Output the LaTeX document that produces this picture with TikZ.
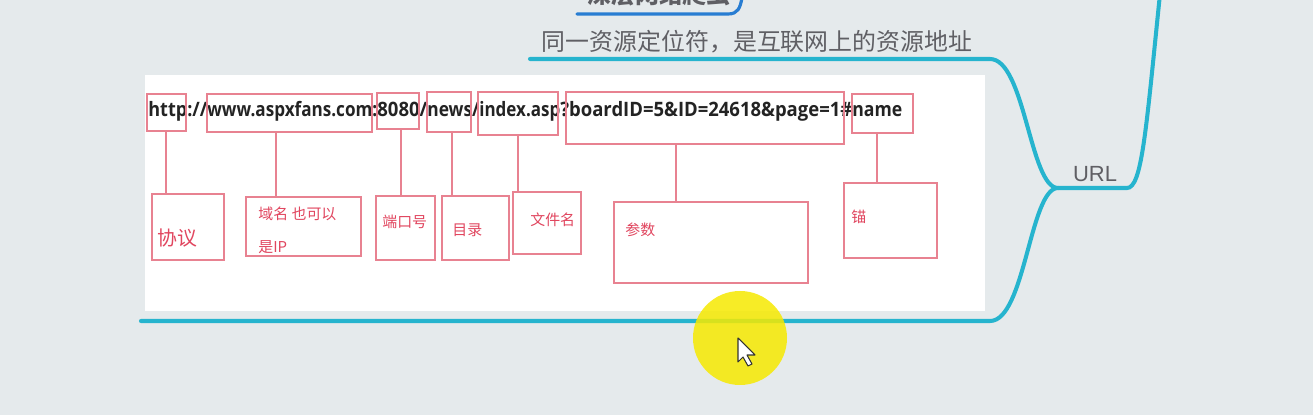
\documentclass[tikz,border=0pt]{standalone}
\usepackage{fontspec}
\setmainfont{Liberation Sans}
\newfontfamily\cjk{Noto Sans CJK SC}
\newfontfamily\urlf{Open Sans}
\definecolor{bgc}{RGB}{229,234,236}
\definecolor{mapblue}{RGB}{38,180,206}
\definecolor{topblue}{RGB}{40,125,210}
\definecolor{redtxt}{RGB}{225,70,95}
\definecolor{redbox}{RGB}{232,130,145}
\definecolor{graytxt}{RGB}{95,95,100}
\definecolor{urltxt}{RGB}{35,35,35}
\tikzset{
  branch/.style={draw=mapblue, line width=2.3pt, line cap=round},
  urlseg/.style={inner sep=0pt, anchor=base west, text=urltxt, font=\urlf\bfseries\fontsize{11.3}{13}\selectfont},
  segbox/.style={draw=redbox, line width=0.7pt},
  lblbox/.style={draw=redbox, line width=0.7pt},
  lbltxt/.style={inner sep=0pt, anchor=west, text=redtxt, font=\cjk\fontsize{8.5}{10}\selectfont},
  tie/.style={draw=redbox, line width=0.7pt},
  graylabel/.style={text=graytxt, inner sep=0pt}
}
\begin{document}
\begin{tikzpicture}[x=0.02cm,y=-0.02cm]
\useasboundingbox (0,0) rectangle (1313,415);
\clip (0,0) rectangle (1313,415);
\fill[bgc] (0,0) rectangle (1313,415);
% white panel
\fill[white] (145,75) rectangle (985,311);

% top (cut off) topic
\node[graylabel, font=\cjk\bfseries\fontsize{13.6}{16}\selectfont] (deep) at (659,-6) {深层网络爬虫};
\coordinate (dl) at (577,14);
\coordinate (dr) at (742,-2);
\draw[draw=topblue, line width=1.8pt, line cap=round] (dl) -- (728,14) .. controls (738,14) and (740,8) .. (dr);

% mind map branches
\coordinate (J) at (1058,188);
\coordinate (TL) at (530,59);
\coordinate (BL) at (141,321);
\coordinate (UP) at (1160,-6);
\draw[branch] (TL) -- (990,59) .. controls (1025,59) and (1030,188) .. (J);
\draw[branch] (J) .. controls (1030,188) and (1025,321) .. (990,321) -- (BL);
\draw[branch] (J) -- (1127,188) .. controls (1142,188) and (1146,130) .. (UP);

\node[graylabel, font=\fontsize{12.5}{14}\selectfont] (url) at (1095,174) {URL};
\node[graylabel, font=\cjk\fontsize{13.6}{16}\selectfont] (desc) at (757,42) {同一资源定位符，是互联网上的资源地址};

% URL string segments
\node[urlseg] (s1) at (148,117) {\resizebox{1.18cm}{\height}{http://}};
\node[urlseg] (s2) at (207,117) {\resizebox{3.40cm}{\height}{www.aspxfans.com:}};
\node[urlseg] (s3) at (377,117) {\resizebox{1.00cm}{\height}{8080/}};
\node[urlseg] (s4) at (427,117) {\resizebox{1.04cm}{\height}{news/}};
\node[urlseg] (s5) at (479,117) {\resizebox{1.62cm}{\height}{index.asp}};
\node[urlseg] (s6) at (560,117) {\resizebox{5.84cm}{\height}{?boardID=5\&ID=24618\&page=1\#}};
\node[urlseg] (s7) at (852,117) {\resizebox{1.00cm}{\height}{name}};

% boxes around URL parts
\path[segbox] (147,94) rectangle (186,131);
\path[segbox] (207,94) rectangle (372,132);
\path[segbox] (377,93) rectangle (419,129);
\path[segbox] (427,92) rectangle (471,132);
\path[segbox] (478,92) rectangle (558,135);
\path[segbox] (566,92) rectangle (844,144);
\path[segbox] (852,94) rectangle (913,133);

% label boxes
\path[lblbox] (152,194) rectangle (224,260);
\path[lblbox] (246,197) rectangle (361,256);
\path[lblbox] (376,196) rectangle (435,260);
\path[lblbox] (442,196) rectangle (509,260);
\path[lblbox] (513,192) rectangle (581,254);
\path[lblbox] (614,202) rectangle (808,283);
\path[lblbox] (844,183) rectangle (937,258);

% ties
\path[tie] (166,131) -- (166,194);
\path[tie] (276,132) -- (276,197);
\path[tie] (401,129) -- (401,196);
\path[tie] (452,132) -- (452,196);
\path[tie] (518,135) -- (518,192);
\path[tie] (676,144) -- (676,202);
\path[tie] (877,133) -- (877,183);

% label texts
\node[lbltxt, font=\cjk\fontsize{11.3}{13}\selectfont] (t1) at (157,238) {协议};
\node[lbltxt, align=left, anchor=north west, font=\cjk\fontsize{8.5}{18.8}\selectfont] (t2) at (258,207) {域名 也可以\\是IP};
\node[lbltxt] (t3) at (382,222) {端口号};
\node[lbltxt] (t4) at (452,230) {目录};
\node[lbltxt] (t5) at (530,220) {文件名};
\node[lbltxt] (t6) at (625,230) {参数};
\node[lbltxt] (t7) at (851,217) {锚};

% cursor highlight
\fill[yellow!92!olive, opacity=0.85] (740,338) circle (47);
\coordinate (tip) at (738,338);
\draw[fill=white, draw=black!80, line width=0.6pt, line join=round]
  (tip) -- ++(0,24) -- ++(5,-5) -- ++(5,9) -- ++(4,-2) -- ++(-5,-9) -- ++(8,0) -- cycle;
\end{tikzpicture}
\end{document}
